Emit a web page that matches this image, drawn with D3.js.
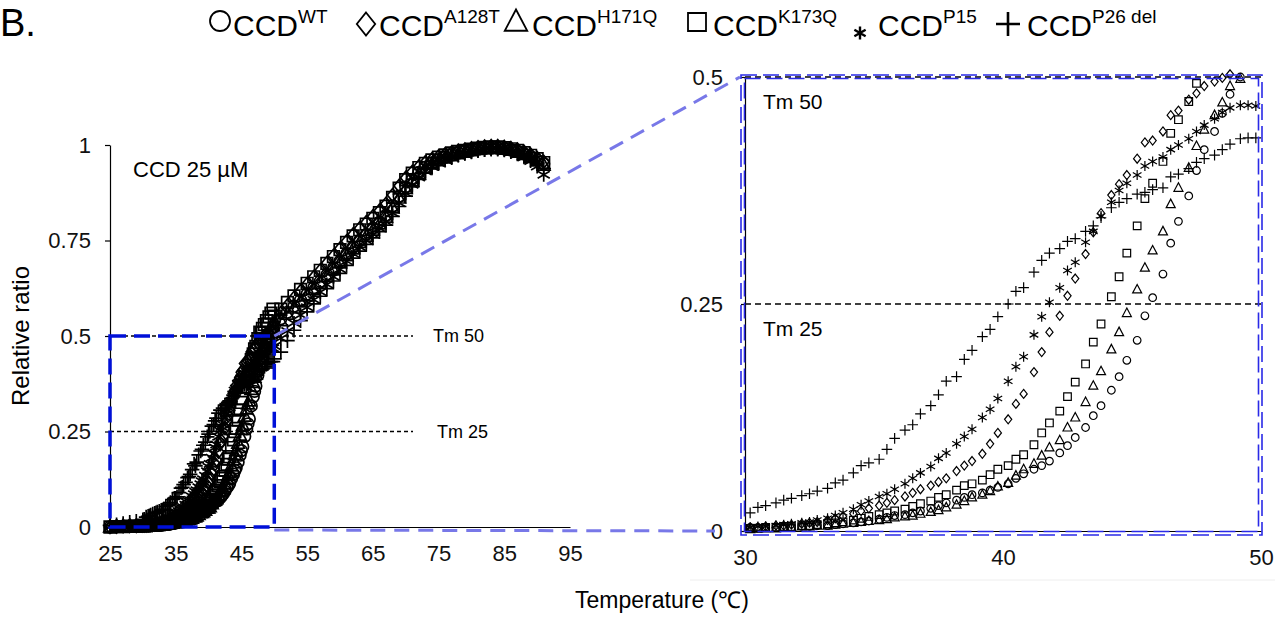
<!DOCTYPE html>
<html>
<head>
<meta charset="utf-8">
<script src="https://cdn.jsdelivr.net/npm/d3@7"></script>
<style>
  body { margin: 0; background: #fff; }
  svg { display: block; font-family: "Liberation Sans", Arial, sans-serif; }
</style>
</head>
<body>
<div id="chart"></div>
<script>
// series names (legend superscripts), same order as the symbol shapes
const seriesNames = ['WT', 'A128T', 'H171Q', 'K173Q', 'P15', 'P26 del'];

// full melt curve, left panel (°C)
const fullTemps = [25, 26, 27, 28, 29, 30, 31, 32, 33, 34, 35, 36, 37, 38, 39, 40, 41, 42, 43, 44, 45, 46, 47, 48, 49, 50,
  51, 52, 53, 54, 55, 56, 57, 58, 59, 60, 61, 62, 63, 64, 65, 66, 67, 68, 69, 70, 71, 72, 73, 74, 75, 76, 77, 78, 79, 80,
  81, 82, 83, 84, 85, 86, 87, 88, 89, 90, 91];

const fullWT = [0.000, 0.001, 0.002, 0.002, 0.003, 0.004, 0.004, 0.005, 0.006, 0.008, 0.012, 0.017,
  0.024, 0.032, 0.040, 0.050, 0.066, 0.082, 0.108, 0.148, 0.200, 0.270, 0.355, 0.428, 0.490, 0.525,
  0.545, 0.562, 0.578, 0.594, 0.610, 0.626, 0.643, 0.660, 0.678, 0.696,
  0.715, 0.733, 0.750, 0.766, 0.782, 0.798, 0.816, 0.840, 0.866, 0.890,
  0.910, 0.928, 0.942, 0.953, 0.961, 0.968, 0.974, 0.979, 0.983, 0.986,
  0.989, 0.991, 0.992, 0.992, 0.990, 0.987, 0.983, 0.977, 0.970, 0.961, 0.951];
const fullA128T = [0.000, 0.001, 0.002, 0.003, 0.003, 0.004, 0.006, 0.008, 0.011, 0.018, 0.026, 0.036,
  0.048, 0.062, 0.080, 0.115, 0.165, 0.225, 0.292, 0.358, 0.405, 0.435, 0.468, 0.492, 0.510, 0.535,
  0.560, 0.580, 0.600, 0.618, 0.636, 0.654, 0.672, 0.691, 0.710, 0.729,
  0.748, 0.766, 0.782, 0.798, 0.813, 0.828, 0.846, 0.869, 0.893, 0.914,
  0.930, 0.944, 0.955, 0.963, 0.970, 0.976, 0.981, 0.985, 0.988, 0.991,
  0.994, 0.996, 0.997, 0.997, 0.995, 0.992, 0.988, 0.982, 0.975, 0.966, 0.956];
const fullH171Q = [0.000, 0.001, 0.001, 0.002, 0.002, 0.002, 0.003, 0.004, 0.005, 0.008, 0.011, 0.015,
  0.020, 0.027, 0.038, 0.050, 0.070, 0.095, 0.135, 0.190, 0.255, 0.322, 0.392, 0.450, 0.493, 0.520,
  0.540, 0.557, 0.573, 0.589, 0.605, 0.621, 0.638, 0.655, 0.673, 0.691,
  0.710, 0.728, 0.745, 0.761, 0.777, 0.793, 0.811, 0.835, 0.861, 0.886,
  0.906, 0.924, 0.939, 0.950, 0.959, 0.966, 0.972, 0.977, 0.981, 0.985,
  0.988, 0.990, 0.991, 0.991, 0.989, 0.986, 0.981, 0.975, 0.967, 0.958, 0.947];
const fullK173Q = [0.000, 0.001, 0.001, 0.002, 0.002, 0.003, 0.004, 0.005, 0.007, 0.011, 0.017, 0.023,
  0.032, 0.044, 0.055, 0.070, 0.092, 0.127, 0.178, 0.250, 0.326, 0.400, 0.466, 0.508, 0.532, 0.552,
  0.570, 0.588, 0.605, 0.622, 0.638, 0.655, 0.672, 0.690, 0.708, 0.726,
  0.745, 0.762, 0.778, 0.793, 0.808, 0.823, 0.840, 0.863, 0.887, 0.909,
  0.926, 0.941, 0.952, 0.961, 0.968, 0.974, 0.979, 0.983, 0.986, 0.989,
  0.992, 0.994, 0.995, 0.995, 0.993, 0.990, 0.986, 0.980, 0.973, 0.964, 0.954];
const fullP15 = [0.000, 0.002, 0.003, 0.004, 0.004, 0.005, 0.006, 0.009, 0.013, 0.022, 0.036, 0.050,
  0.068, 0.092, 0.120, 0.158, 0.208, 0.262, 0.312, 0.357, 0.389, 0.410, 0.430, 0.451, 0.467, 0.474,
  0.494, 0.513, 0.534, 0.555, 0.575, 0.595, 0.615, 0.635, 0.655, 0.675,
  0.696, 0.715, 0.733, 0.750, 0.766, 0.782, 0.799, 0.822, 0.848, 0.874,
  0.896, 0.915, 0.931, 0.943, 0.953, 0.961, 0.968, 0.973, 0.978, 0.982,
  0.985, 0.987, 0.988, 0.988, 0.986, 0.982, 0.976, 0.968, 0.958, 0.944, 0.922];
const fullP26del = [0.004, 0.006, 0.009, 0.012, 0.015, 0.019, 0.029, 0.037, 0.045, 0.060, 0.075, 0.104,
  0.132, 0.160, 0.203, 0.243, 0.278, 0.305, 0.326, 0.350, 0.368, 0.377, 0.395, 0.411, 0.428, 0.440,
  0.458, 0.488, 0.515, 0.540, 0.563, 0.584, 0.604, 0.624, 0.644, 0.664,
  0.685, 0.704, 0.722, 0.740, 0.757, 0.773, 0.790, 0.813, 0.839, 0.866,
  0.890, 0.910, 0.927, 0.940, 0.951, 0.960, 0.967, 0.973, 0.978, 0.982,
  0.985, 0.988, 0.990, 0.990, 0.988, 0.984, 0.979, 0.972, 0.963, 0.952, 0.938];

// zoomed readings 30-50 °C, right panel (also shown in the left panel)
const zoomTemps = [30.2, 30.5, 30.8, 31.2, 31.5, 31.8, 32.2, 32.5, 32.8, 33.2, 33.5, 33.8,
  34.2, 34.5, 34.8, 35.2, 35.5, 35.8, 36.2, 36.5, 36.8, 37.2, 37.5, 37.8,
  38.2, 38.5, 38.8, 39.2, 39.5, 39.8, 40.2, 40.5, 40.8, 41.2, 41.5, 41.8,
  42.2, 42.5, 42.8, 43.2, 43.5, 43.8, 44.2, 44.5, 44.8, 45.2, 45.5, 45.8,
  46.2, 46.5, 46.8, 47.2, 47.5, 47.8, 48.2, 48.5, 48.8, 49.2, 49.5, 49.8];

const zoomWT = [0.004, 0.004, 0.004, 0.004, 0.004, 0.004, 0.005, 0.005, 0.006, 0.006, 0.007, 0.008,
  0.009, 0.010, 0.011, 0.013, 0.015, 0.017, 0.018, 0.020, 0.022, 0.025, 0.028, 0.031,
  0.034, 0.037, 0.040, 0.042, 0.045, 0.048, 0.052, 0.058, 0.063, 0.068, 0.072, 0.077,
  0.086, 0.094, 0.103, 0.114, 0.127, 0.138, 0.155, 0.170, 0.188, 0.210, 0.237, 0.257,
  0.283, 0.317, 0.341, 0.369, 0.397, 0.420, 0.440, 0.460, 0.481, 0.500, 0.510, 0.520];
const zoomA128T = [0.004, 0.004, 0.005, 0.006, 0.006, 0.007, 0.008, 0.009, 0.010, 0.012, 0.014, 0.016,
  0.019, 0.022, 0.025, 0.028, 0.031, 0.034, 0.038, 0.042, 0.046, 0.050, 0.054, 0.058,
  0.066, 0.072, 0.077, 0.085, 0.096, 0.108, 0.123, 0.140, 0.151, 0.175, 0.197, 0.219,
  0.237, 0.259, 0.278, 0.305, 0.329, 0.350, 0.370, 0.382, 0.392, 0.410, 0.428, 0.430,
  0.440, 0.458, 0.463, 0.475, 0.482, 0.490, 0.495, 0.499, 0.503, 0.508, 0.512, 0.515];
const zoomH171Q = [0.002, 0.003, 0.003, 0.003, 0.004, 0.004, 0.005, 0.005, 0.006, 0.006, 0.007, 0.008,
  0.009, 0.010, 0.011, 0.012, 0.013, 0.015, 0.016, 0.017, 0.019, 0.021, 0.023, 0.026,
  0.029, 0.033, 0.037, 0.040, 0.044, 0.049, 0.053, 0.061, 0.068, 0.074, 0.083, 0.092,
  0.100, 0.114, 0.125, 0.142, 0.160, 0.176, 0.200, 0.219, 0.240, 0.266, 0.290, 0.309,
  0.330, 0.360, 0.378, 0.400, 0.424, 0.442, 0.458, 0.472, 0.490, 0.498, 0.505, 0.510];
const zoomK173Q = [0.003, 0.003, 0.004, 0.004, 0.005, 0.005, 0.006, 0.006, 0.007, 0.008, 0.009, 0.010,
  0.012, 0.014, 0.016, 0.018, 0.020, 0.022, 0.024, 0.027, 0.030, 0.033, 0.037, 0.040,
  0.045, 0.050, 0.052, 0.056, 0.062, 0.068, 0.072, 0.079, 0.084, 0.095, 0.108, 0.119,
  0.132, 0.148, 0.164, 0.184, 0.208, 0.228, 0.258, 0.280, 0.306, 0.336, 0.366, 0.383,
  0.407, 0.438, 0.453, 0.473, 0.493, 0.510, 0.520, 0.530, 0.540, 0.550, 0.560, 0.570];
const zoomP15 = [0.004, 0.005, 0.005, 0.006, 0.007, 0.008, 0.009, 0.010, 0.012, 0.014, 0.017, 0.020,
  0.024, 0.029, 0.033, 0.038, 0.041, 0.046, 0.052, 0.058, 0.064, 0.071, 0.080, 0.086,
  0.096, 0.104, 0.112, 0.125, 0.134, 0.146, 0.165, 0.181, 0.192, 0.216, 0.236, 0.252,
  0.268, 0.287, 0.296, 0.318, 0.330, 0.347, 0.362, 0.375, 0.383, 0.392, 0.402, 0.407,
  0.412, 0.420, 0.425, 0.432, 0.440, 0.447, 0.454, 0.461, 0.466, 0.469, 0.469, 0.468];
const zoomP26del = [0.020, 0.026, 0.028, 0.031, 0.034, 0.036, 0.039, 0.041, 0.044, 0.047, 0.053, 0.056,
  0.064, 0.072, 0.075, 0.079, 0.090, 0.102, 0.111, 0.117, 0.129, 0.138, 0.150, 0.165,
  0.170, 0.189, 0.199, 0.214, 0.222, 0.236, 0.250, 0.264, 0.268, 0.285, 0.298, 0.306,
  0.311, 0.319, 0.322, 0.330, 0.336, 0.345, 0.356, 0.362, 0.366, 0.371, 0.373, 0.376,
  0.378, 0.390, 0.393, 0.399, 0.406, 0.410, 0.414, 0.420, 0.426, 0.432, 0.433, 0.433];

const fullXTicks = [25, 35, 45, 55, 65, 75, 85, 95];
const fullYTicks = [0, 0.25, 0.5, 0.75, 1];
const zoomXTicks = [30, 40, 50];
const zoomYTicks = [0, 0.25, 0.5];
const tmLevels = [0.5, 0.25];
const tmLabels = ['Tm 50', 'Tm 25'];

const fullValues = [fullWT, fullA128T, fullH171Q, fullK173Q, fullP15, fullP26del];
const zoomValues = [zoomWT, zoomA128T, zoomH171Q, zoomK173Q, zoomP15, zoomP26del];

const width = 1275;
const height = 624;
const fontFamily = '"Liberation Sans", Arial, sans-serif';

const svg = d3.select('#chart')
  .append('svg')
  .attr('width', width)
  .attr('height', height);

// open marker shapes, size = radius in px
const shapeCircle = { draw(ctx, r) { ctx.moveTo(r, 0); ctx.arc(0, 0, r, 0, 2 * Math.PI); } };
const shapeDiamond = { draw(ctx, r) { ctx.moveTo(0, -r); ctx.lineTo(r * 0.8, 0); ctx.lineTo(0, r); ctx.lineTo(-r * 0.8, 0); ctx.closePath(); } };
const shapeTriangle = { draw(ctx, r) { ctx.moveTo(0, -r); ctx.lineTo(r * 0.9, r * 0.7); ctx.lineTo(-r * 0.9, r * 0.7); ctx.closePath(); } };
const shapeSquare = { draw(ctx, r) { ctx.moveTo(-r, -r); ctx.lineTo(r, -r); ctx.lineTo(r, r); ctx.lineTo(-r, r); ctx.closePath(); } };
const shapeStar = { draw(ctx, r) {
  const c = r * Math.cos(Math.PI / 6), s = r * Math.sin(Math.PI / 6);
  ctx.moveTo(0, -r); ctx.lineTo(0, r);
  ctx.moveTo(-c, -s); ctx.lineTo(c, s);
  ctx.moveTo(-c, s); ctx.lineTo(c, -s);
} };
const shapePlus = { draw(ctx, r) { ctx.moveTo(-r, 0); ctx.lineTo(r, 0); ctx.moveTo(0, -r); ctx.lineTo(0, r); } };

const shapes = [shapeCircle, shapeDiamond, shapeTriangle, shapeSquare, shapeStar, shapePlus];
const markerSize = [3.8, 4.5, 5, 3.8, 5, 5.3];

// ---------- legend ----------
svg.append('text')
  .attr('x', 0).attr('y', 36)
  .attr('font-size', 38)
  .attr('font-family', fontFamily)
  .text('B.');

const legendSymbolX = [220, 366, 516, 697, 860, 1008];
const legendSymbolY = [21, 24, 22, 22, 33, 24];
const legendSymbolR = [10, 11.5, 12.5, 9, 6.5, 12];
const legendStroke = [1.8, 1.8, 1.8, 1.8, 2.4, 2.6];
const legendTextX = [233, 379, 532, 713, 878, 1027];

const legend = svg.append('g').attr('class', 'legend');
seriesNames.forEach((name, i) => {
  legend.append('path')
    .attr('transform', `translate(${legendSymbolX[i]},${legendSymbolY[i]})`)
    .attr('d', d3.symbol().type(shapes[i]).size(legendSymbolR[i])())
    .attr('fill', 'none')
    .attr('stroke', '#000')
    .attr('stroke-width', legendStroke[i]);

  const label = legend.append('text')
    .attr('x', legendTextX[i])
    .attr('y', 36)
    .attr('font-size', 30)
    .attr('font-family', fontFamily)
    .attr('fill', '#000');
  label.append('tspan').text('CCD');
  label.append('tspan')
    .attr('dy', -13)
    .attr('font-size', 19)
    .text(name);
});

// ---------- left panel: full curve ----------
const xFull = d3.scaleLinear().domain([25, 95]).range([110, 570]);
const yFull = d3.scaleLinear().domain([0, 1]).range([527, 145]);

const leftPanel = svg.append('g').attr('class', 'full');

const yAxisFull = leftPanel.append('g')
  .attr('transform', `translate(${xFull(25)},0)`)
  .call(d3.axisLeft(yFull).tickValues(fullYTicks).tickSize(5).tickSizeOuter(0).tickPadding(14)
    .tickFormat(d => String(d)));
const xAxisFull = leftPanel.append('g')
  .attr('transform', `translate(0,${yFull(0)})`)
  .call(d3.axisBottom(xFull).tickValues(fullXTicks).tickSize(0).tickSizeOuter(0).tickPadding(18));

[yAxisFull, xAxisFull].forEach((g) => {
  g.attr('font-size', 22).attr('font-family', fontFamily);
  g.select('.domain').attr('stroke-width', 1.2);
  g.selectAll('.tick line').attr('stroke-width', 1.2);
  g.selectAll('.tick text').attr('fill', '#111');
});

svg.append('text')
  .attr('transform', 'translate(29,336) rotate(-90)')
  .attr('text-anchor', 'middle')
  .attr('font-size', 24)
  .attr('font-family', fontFamily)
  .text('Relative ratio');

leftPanel.append('text')
  .attr('x', 133).attr('y', 177)
  .attr('font-size', 22)
  .attr('font-family', fontFamily)
  .text('CCD 25 µM');

// Tm guide lines
tmLevels.forEach((level, i) => {
  leftPanel.append('line')
    .attr('x1', xFull(25)).attr('x2', 413)
    .attr('y1', yFull(level)).attr('y2', yFull(level))
    .attr('stroke', '#000')
    .attr('stroke-width', 1.3)
    .attr('stroke-dasharray', '4,3');
  leftPanel.append('text')
    .attr('x', 433 + i * 4)
    .attr('y', yFull(level) + 6)
    .attr('font-size', 18)
    .attr('font-family', fontFamily)
    .text(tmLabels[i]);
});

// every reading goes in the left panel: whole-degree run plus the finer 30-50 °C run
fullValues.forEach((values, i) => {
  const points = fullTemps.map((t, k) => ({ t: t, v: values[k] }))
    .concat(zoomTemps.map((t, k) => ({ t: t, v: zoomValues[i][k] })));
  leftPanel.append('g')
    .selectAll('path')
    .data(points)
    .enter()
    .append('path')
    .attr('transform', (d) => `translate(${xFull(d.t)},${yFull(d.v)})`)
    .attr('d', d3.symbol().type(shapes[i]).size(markerSize[i] + 2))
    .attr('fill', 'none')
    .attr('stroke', '#000')
    .attr('stroke-width', 1.7);
});

// ---------- right panel: zoom 30-50 °C ----------
const xZoom = d3.scaleLinear().domain([30, 50]).range([745, 1261]);
const yZoom = d3.scaleLinear().domain([0, 0.5]).range([531, 77]);

const rightPanel = svg.append('g').attr('class', 'zoom');

svg.append('line')
  .attr('x1', 690).attr('x2', 1275)
  .attr('y1', 580).attr('y2', 580)
  .attr('stroke', '#eeeeee')
  .attr('stroke-width', 1);

const yAxisZoom = rightPanel.append('g')
  .attr('transform', `translate(${xZoom(30)},0)`)
  .call(d3.axisLeft(yZoom).tickValues(zoomYTicks).tickSize(4).tickSizeOuter(0).tickPadding(18)
    .tickFormat(d => String(d)));
const xAxisZoom = rightPanel.append('g')
  .attr('transform', `translate(0,${yZoom(0)})`)
  .call(d3.axisBottom(xZoom).tickValues(zoomXTicks).tickSize(0).tickSizeOuter(0).tickPadding(18));

[yAxisZoom, xAxisZoom].forEach((g) => {
  g.attr('font-size', 22).attr('font-family', fontFamily);
  g.select('.domain').attr('stroke-width', 1.2);
  g.selectAll('.tick line').attr('stroke-width', 1.2);
  g.selectAll('.tick text').attr('fill', '#111');
});

tmLevels.forEach((level, i) => {
  rightPanel.append('line')
    .attr('x1', xZoom(30)).attr('x2', xZoom(50))
    .attr('y1', yZoom(level)).attr('y2', yZoom(level))
    .attr('stroke', '#000')
    .attr('stroke-width', 1.3)
    .attr('stroke-dasharray', '6,4');
  rightPanel.append('text')
    .attr('x', 763)
    .attr('y', yZoom(level) + 32)
    .attr('font-size', 21)
    .attr('font-family', fontFamily)
    .text(tmLabels[i]);
});

zoomValues.forEach((values, i) => {
  const points = zoomTemps
    .map((t, k) => ({ t: t, v: values[k] }))
    .filter((d) => d.v <= 0.503);
  rightPanel.append('g')
    .selectAll('path')
    .data(points)
    .enter()
    .append('path')
    .attr('transform', (d) => `translate(${xZoom(d.t)},${yZoom(d.v)})`)
    .attr('d', d3.symbol().type(shapes[i]).size(markerSize[i]))
    .attr('fill', 'none')
    .attr('stroke', '#000')
    .attr('stroke-width', 1.2);
});

// ---------- zoom frames and connectors ----------
const frames = svg.append('g').attr('class', 'frames');

frames.append('rect')
  .attr('x', xFull(25)).attr('y', yFull(0.5))
  .attr('width', xFull(50) - xFull(25))
  .attr('height', yFull(0) - yFull(0.5))
  .attr('fill', 'none')
  .attr('stroke', '#0010d8')
  .attr('stroke-width', 3.5)
  .attr('stroke-dasharray', '16,8');

frames.append('line')
  .attr('x1', xFull(50)).attr('y1', yFull(0.5))
  .attr('x2', xZoom(30) - 5).attr('y2', yZoom(0.5))
  .attr('stroke', '#7878e8')
  .attr('stroke-width', 3)
  .attr('stroke-dasharray', '15,9');
frames.append('line')
  .attr('x1', xFull(50)).attr('y1', yFull(0) + 3)
  .attr('x2', xZoom(30) - 30).attr('y2', yZoom(0))
  .attr('stroke', '#7878e8')
  .attr('stroke-width', 3)
  .attr('stroke-dasharray', '15,9');

[0, 3.5].forEach((inset) => {
  frames.append('rect')
    .attr('x', 741 + inset).attr('y', 75 + inset)
    .attr('width', 521 - 2 * inset).attr('height', 460 - 2 * inset)
    .attr('fill', 'none')
    .attr('stroke', '#2a2ae6')
    .attr('stroke-width', 1.6)
    .attr('stroke-dasharray', '16,6');
});

svg.append('text')
  .attr('x', 662).attr('y', 608)
  .attr('text-anchor', 'middle')
  .attr('font-size', 23)
  .attr('font-family', fontFamily)
  .text('Temperature (℃)');
</script>
</body>
</html>
